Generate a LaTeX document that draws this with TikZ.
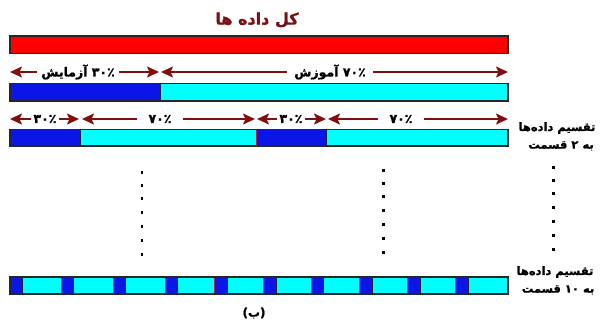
\documentclass[tikz,border=0pt]{standalone}
\usepackage{fontspec}
\usetikzlibrary{arrows.meta}
\TeXXeTstate=1
\newfontfamily\pfont[Script=Arabic, BoldFeatures={FakeBold=1.2}]{DejaVu Sans}
\definecolor{titlered}{RGB}{120,18,20}
\definecolor{arrred}{RGB}{128,16,16}
\definecolor{barred}{RGB}{255,0,0}
\definecolor{barblue}{RGB}{10,22,230}
\definecolor{barcyan}{RGB}{0,255,255}
\definecolor{sepred}{RGB}{200,30,60}
\begin{document}
\begin{tikzpicture}[x=1pt,y=-1pt,
  seg/.style={inner sep=0pt, outer sep=0pt, anchor=north west, draw=none},
  outline/.style={draw=black!85, line width=1.1pt},
  sepline/.style={draw=sepred, line width=0.9pt},
  arr/.style={draw=arrred, line width=1.8pt, -{Stealth[length=12pt,width=11pt,inset=2.5pt]}},
  lbl/.style={font=\pfont\bfseries\fontsize{12.5}{14}\selectfont, inner sep=4pt, text=black},
  side/.style={font=\pfont\bfseries\fontsize{11.5}{13}\selectfont, inner sep=0pt, text=black},
  dot/.style={fill=black}]
\path[use as bounding box] (0,0) rectangle (601,325);

% title
\node[font=\pfont\bfseries\fontsize{16}{18}\selectfont, text=titlered] (title) at (257,20) {\beginR کل داده ها\endR};

% full data bar
\node[seg, fill=barred, minimum width=498pt, minimum height=17.5pt] (all) at (10,36) {};
\draw[outline] (all.north west) rectangle (all.south east);

% row 1 arrows
\coordinate (a0) at (10,72);
\coordinate (a1) at (159,72);
\coordinate (a2) at (161,72);
\coordinate (a3) at (508,72);
\node[lbl] (test1) at (78,72) {\beginR ۳۰٪ آزمایش\endR};
\node[lbl, inner sep=7pt] (train1) at (330,72) {\beginR ۷۰٪ آموزش\endR};
\draw[arr] (test1.west) -- (test1.west -| a0);
\draw[arr] (test1.east) -- (test1.east -| a1);
\draw[arr] (train1.west) -- (train1.west -| a2);
\draw[arr] (train1.east) -- (train1.east -| a3);

% row 1 bar
\node[seg, fill=barblue, minimum width=150pt, minimum height=17.5pt] (b1) at (10,83.5) {};
\node[seg, fill=barcyan, minimum width=348pt, minimum height=17.5pt] (c1) at (160,83.5) {};
\draw[outline] (b1.north west) rectangle (c1.south east);
\draw[outline, line width=0.8pt] (b1.north east) -- (b1.south east);

% row 2 arrows
\coordinate (d0) at (10,119);
\coordinate (d1) at (79,119);
\coordinate (d2) at (82,119);
\coordinate (d3) at (255,119);
\coordinate (d4) at (257,119);
\coordinate (d5) at (326,119);
\coordinate (d6) at (328,119);
\coordinate (d7) at (508,119);
\node[lbl, inner sep=2.5pt] (p1) at (45,119) {۳۰٪};
\node[lbl, inner sep=11pt] (p2) at (160,119) {۷۰٪};
\node[lbl, inner sep=2.5pt] (p3) at (291,119) {۳۰٪};
\node[lbl, inner sep=11pt] (p4) at (401,119) {۷۰٪};
\draw[arr] (p1.west) -- (p1.west -| d0);
\draw[arr] (p1.east) -- (p1.east -| d1);
\draw[arr] (p2.west) -- (p2.west -| d2);
\draw[arr] (p2.east) -- (p2.east -| d3);
\draw[arr] (p3.west) -- (p3.west -| d4);
\draw[arr] (p3.east) -- (p3.east -| d5);
\draw[arr] (p4.west) -- (p4.west -| d6);
\draw[arr] (p4.east) -- (p4.east -| d7);

% row 2 bar
\node[seg, fill=barblue, minimum width=70pt, minimum height=16.5pt] (e1) at (10,129.5) {};
\node[seg, fill=barcyan, minimum width=176pt, minimum height=16.5pt] (e2) at (80,129.5) {};
\node[seg, fill=barblue, minimum width=70pt, minimum height=16.5pt] (e3) at (256,129.5) {};
\node[seg, fill=barcyan, minimum width=182pt, minimum height=16.5pt] (e4) at (326,129.5) {};
\draw[outline] (e1.north west) rectangle (e4.south east);
\draw[outline, line width=0.8pt] (e1.north east) -- (e1.south east);
\draw[outline, line width=0.8pt] (e3.north east) -- (e3.south east);
\draw[sepline] (e3.north west) -- (e3.south west);

% side labels row 2
\node[side] (s1a) at (557,128) {\beginR تقسیم داده‌ها\endR};
\node[side] (s1b) at (561,146) {\beginR به ۲ قسمت\endR};

% dots
\foreach \yy in {171,184,197,211,225,239,253} \fill[dot] (140.5,\yy) rectangle +(2.6,2.6);
\foreach \yy in {169,182,195,209,223,237,251} \fill[dot] (382,\yy) rectangle +(2.6,2.6);
\foreach \yy in {166,179,192,206,220,234,248} \fill[dot] (552,\yy) rectangle +(2.6,2.6);

% row 10 bar
\node[seg, fill=barcyan, minimum width=498pt, minimum height=17pt] (f) at (10,277) {};
\foreach \xx [count=\i] in {10,61,113,165,214.5,263.5,311,359.5,407.5,455.5} {
  \node[seg, fill=barblue, minimum width=12.5pt, minimum height=17pt] (fb\i) at (\xx,277) {};
  \draw[outline, line width=0.7pt] (fb\i.north east) -- (fb\i.south east);
}
\foreach \i in {2,...,10} \draw[sepline] (fb\i.north west) -- (fb\i.south west);
\draw[outline] (f.north west) rectangle (f.south east);

% side labels row 10
\node[side] (s2a) at (555,272) {\beginR تقسیم داده‌ها\endR};
\node[side] (s2b) at (558,290) {\beginR به ۱۰ قسمت\endR};

% caption
\node[font=\pfont\bfseries\fontsize{12}{13}\selectfont] (cap) at (254,313) {(ب)};
\end{tikzpicture}
\end{document}
